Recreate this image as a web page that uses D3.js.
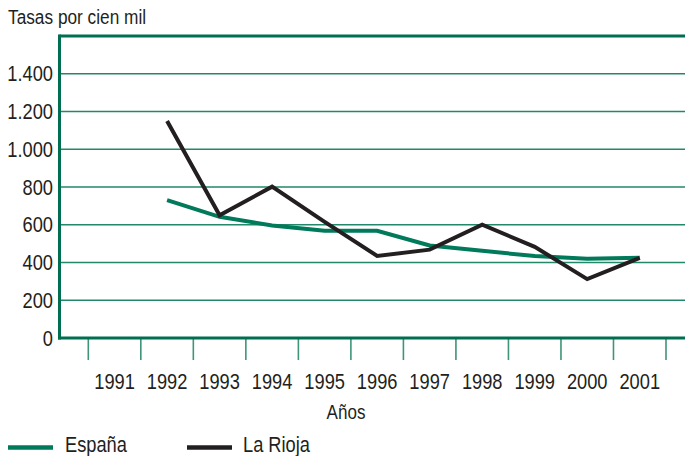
<!DOCTYPE html>
<html>
<head>
<meta charset="utf-8">
<script src="https://cdn.jsdelivr.net/npm/d3@7"></script>
<style>
  html, body { margin: 0; padding: 0; background: #ffffff; }
  svg text { font-family: "Liberation Sans", Arial, sans-serif; fill: #231f20; }
</style>
</head>
<body>
<div id="chart"></div>
<script>
"use strict";

// Years on the x axis.
const years = [1991, 1992, 1993, 1994, 1995, 1996, 1997, 1998, 1999, 2000, 2001];
// Rates per 100,000 (no value for 1991).
const espana = [null, 730, 642, 596, 568, 568, 490, 462, 434, 420, 425];
const laRioja = [null, 1150, 650, 802, 615, 435, 468, 600, 483, 312, 425];
// Y tick values and their labels.
const yTicks = [0, 200, 400, 600, 800, 1000, 1200, 1400];
const yTickLabels = ["0", "200", "400", "600", "800", "1.000", "1.200", "1.400"];

const width = 685;
const height = 456;
const plotLeft = 59.5;
const plotTop = 36;
const plotBottom = 338;
// The original type is a condensed face, so squeeze text horizontally.
const squeeze = 0.83;

const svg = d3.select("#chart").append("svg")
    .attr("width", width)
    .attr("height", height);

// Adds a horizontally condensed text at (tx, ty).
function addText(parent, tx, ty, str, size, anchor) {
    return parent.append("text")
        .attr("transform", "translate(" + tx + "," + ty + ") scale(" + squeeze + ",1)")
        .attr("text-anchor", anchor || "start")
        .style("font-size", size + "px")
        .text(str);
}

// Scales: one band per year, ticks sit on the band edges.
const x = d3.scaleBand().domain(years).range([88.3, 666]).padding(0);
const y = d3.scaleLinear().domain([0, 1600]).range([plotBottom, plotTop]);

// Horizontal grid lines.
svg.append("g")
    .selectAll("line")
    .data(yTicks.slice(1))
    .enter().append("line")
    .attr("x1", plotLeft)
    .attr("x2", width)
    .attr("y1", d => y(d))
    .attr("y2", d => y(d))
    .attr("stroke", "#23876a")
    .attr("stroke-width", 1.4);

// Top border.
svg.append("line")
    .attr("x1", plotLeft).attr("x2", width)
    .attr("y1", y(1600)).attr("y2", y(1600))
    .attr("stroke", "#006e50")
    .attr("stroke-width", 2.8);

// Y labels.
const yLabels = svg.append("g");
yTicks.forEach((d, i) => {
    addText(yLabels, 53, y(d) + 7.5, yTickLabels[i], 22, "end");
});

// X ticks on the band edges.
const edges = years.map(d => x(d)).concat([x(years[years.length - 1]) + x.bandwidth()]);
svg.append("g")
    .selectAll("line")
    .data(edges)
    .enter().append("line")
    .attr("x1", d => d).attr("x2", d => d)
    .attr("y1", plotBottom).attr("y2", 360)
    .attr("stroke", "#3f9479")
    .attr("stroke-width", 1.6);

// X labels centred in each band.
const xLabels = svg.append("g");
years.forEach(d => {
    addText(xLabels, x(d) + x.bandwidth() / 2, 388.5, d, 22, "middle");
});

// Axis lines.
svg.append("line")
    .attr("x1", plotLeft).attr("x2", plotLeft)
    .attr("y1", plotTop - 1.4).attr("y2", plotBottom + 1.4)
    .attr("stroke", "#006e50")
    .attr("stroke-width", 3);
svg.append("line")
    .attr("x1", plotLeft - 1.5).attr("x2", width)
    .attr("y1", plotBottom).attr("y2", plotBottom)
    .attr("stroke", "#006e50")
    .attr("stroke-width", 3);

// Series lines.
const line = d3.line()
    .defined(d => d.v !== null)
    .x(d => x(d.year) + x.bandwidth() / 2)
    .y(d => y(d.v));

const series = [
    { name: "España", values: espana, color: "#007a5a" },
    { name: "La Rioja", values: laRioja, color: "#231f20" }
];

series.forEach(s => {
    svg.append("path")
        .datum(years.map((yr, i) => ({ year: yr, v: s.values[i] })))
        .attr("fill", "none")
        .attr("stroke", s.color)
        .attr("stroke-width", 4)
        .attr("stroke-linejoin", "miter")
        .attr("d", line);
});

// Titles.
addText(svg, 8, 24, "Tasas por cien mil", 20.8);
addText(svg, 346, 419, "Años", 20.5, "middle");

// Legend.
const legend = [
    { x1: 8, x2: 53, tx: 65 },
    { x1: 187, x2: 232, tx: 243 }
];
legend.forEach((l, i) => {
    svg.append("line")
        .attr("x1", l.x1).attr("x2", l.x2)
        .attr("y1", 447.5).attr("y2", 447.5)
        .attr("stroke", series[i].color)
        .attr("stroke-width", 4.5);
    addText(svg, l.tx, 452, series[i].name, 22);
});
</script>
</body>
</html>
